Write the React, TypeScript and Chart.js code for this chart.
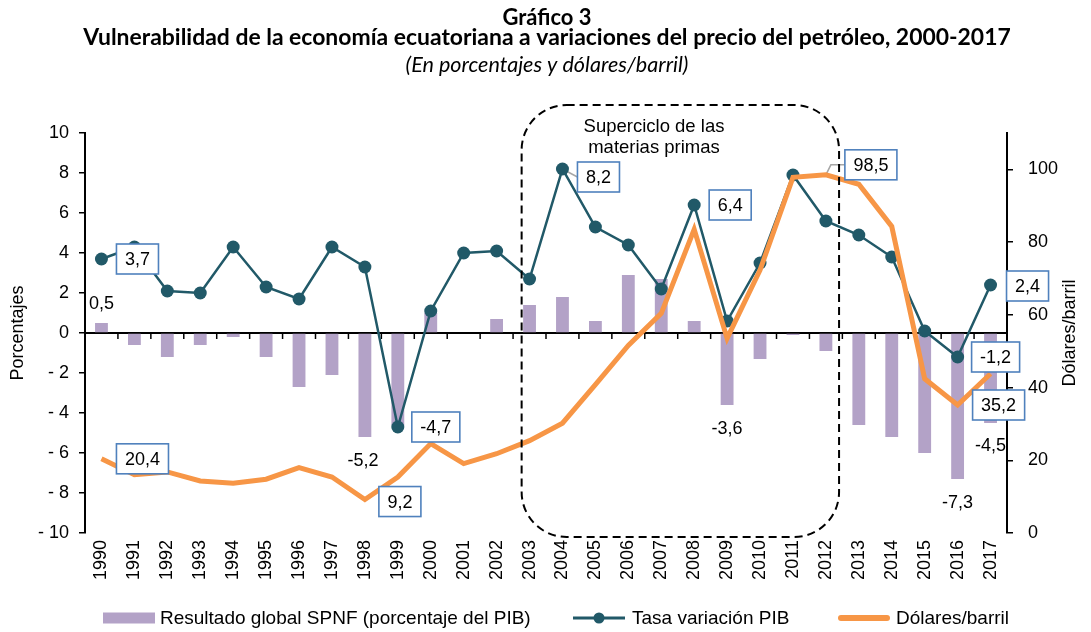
import React, { useEffect, useRef } from 'react';
import { Chart, registerables } from 'chart.js';

Chart.register(...registerables);

// ---------- data ----------
const years = [
  '1990', '1991', '1992', '1993', '1994', '1995', '1996', '1997', '1998', '1999',
  '2000', '2001', '2002', '2003', '2004', '2005', '2006', '2007', '2008', '2009',
  '2010', '2011', '2012', '2013', '2014', '2015', '2016', '2017',
];

// Resultado global SPNF (% del PIB) - bars, left axis
const spnf = [
  0.5, -0.6, -1.2, -0.6, -0.2, -1.2, -2.7, -2.1, -5.2, -4.6,
  1.0, 0.0, 0.7, 1.4, 1.8, 0.6, 2.9, 2.7, 0.6, -3.6,
  -1.3, -0.1, -0.9, -4.6, -5.2, -6.0, -7.3, -4.5,
];

// Tasa variación PIB (%) - line with markers, left axis
const gdp = [
  3.7, 4.3, 2.1, 2.0, 4.3, 2.3, 1.7, 4.3, 3.3, -4.7,
  1.1, 4.0, 4.1, 2.7, 8.2, 5.3, 4.4, 2.2, 6.4, 0.6,
  3.5, 7.9, 5.6, 4.9, 3.8, 0.1, -1.2, 2.4,
];

// Dólares/barril - thick line, right axis
const oil = [
  20.4, 16.0, 16.8, 14.3, 13.7, 14.8, 18.0, 15.4, 9.2, 15.4,
  24.6, 19.1, 21.8, 25.4, 30.2, 40.8, 51.6, 60.4, 83.5, 53.5,
  72.3, 97.8, 98.5, 95.9, 84.3, 42.4, 35.2, 43.8,
];

const leftTicks = { min: -10, max: 10, step: 2 };
const rightTicks = { min: 0, max: 110, step: 20 };

const titleLines = [
  'Gráfico 3',
  'Vulnerabilidad de la economía ecuatoriana a variaciones del precio del petróleo, 2000-2017',
];
const subtitle = '(En porcentajes y dólares/barril)';
const leftTitle = 'Porcentajes';
const rightTitle = 'Dólares/barril';
const cycleLines = ['Superciclo de las', 'materias primas'];

const seriesNames = {
  spnf: 'Resultado global SPNF (porcentaje del PIB)',
  gdp: 'Tasa variación PIB',
  oil: 'Dólares/barril',
};

// ---------- styling / annotation layout (not data) ----------
const FONT = '"Liberation Sans", Arial, sans-serif';
const TITLE_FONT = 'Lato, "Open Sans", sans-serif';
const C_BAR = '#B3A2C7';
const C_GDP = '#215968';
const C_OIL = '#F79646';
const C_BOX = '#4F81BD';

// value labels: which series / index, offset from the mark, boxed or plain
const labelNotes = [
  { s: 'spnf', i: 0, dx: 0, dy: -20, boxed: false },
  { s: 'gdp', i: 0, dx: 36, dy: 0, boxed: true },
  { s: 'oil', i: 0, dx: 41, dy: 0, boxed: true },
  { s: 'spnf', i: 8, dx: -2, dy: 23, boxed: false },
  { s: 'oil', i: 8, dx: 35, dy: 2, boxed: true },
  { s: 'gdp', i: 9, dx: 38, dy: 0, boxed: true },
  { s: 'gdp', i: 14, dx: 36, dy: 8, boxed: true, leader: 'straight' },
  { s: 'gdp', i: 18, dx: 36, dy: 0, boxed: true },
  { s: 'spnf', i: 19, dx: 0, dy: 23, boxed: false },
  { s: 'oil', i: 22, dx: 45, dy: -10, boxed: true, leader: 'elbow' },
  { s: 'gdp', i: 27, dx: 37, dy: 1, boxed: true },
  { s: 'gdp', i: 26, dx: 38, dy: 0, boxed: true },
  { s: 'oil', i: 26, dx: 41, dy: 0, boxed: true },
  { s: 'spnf', i: 27, dx: 0, dy: 22, boxed: false },
  { s: 'spnf', i: 26, dx: 0, dy: 23, boxed: false },
];

// dashed "superciclo" frame, in axis units (category index, left-axis value)
const cycleFrame = { from: 12.76, to: 22.4, top: 11.4, bottom: -10.2, radius: 45 };
const cycleText = { index: 16.78, value: 10.3, lineHeight: 21 };

const fmt = (v: number) => v.toFixed(1).replace('.', ',');
const seriesData: Record<string, number[]> = { spnf, gdp, oil };

function labelBoxes(chart: any) {
  const { ctx } = chart;
  const x = chart.scales.x;
  ctx.save();
  ctx.font = `18px ${FONT}`;
  const out = labelNotes.map((n) => {
    const v = seriesData[n.s][n.i];
    const scale = n.s === 'oil' ? chart.scales.y2 : chart.scales.y;
    const px = x.getPixelForValue(n.i);
    const py = scale.getPixelForValue(v);
    const text = fmt(v);
    const tw = ctx.measureText(text).width;
    const w = tw + 17;
    const h = 30;
    return { ...n, px, py, cx: px + n.dx, cy: py + n.dy, w, h, text };
  });
  ctx.restore();
  return out;
}

const overlay = {
  id: 'overlay',
  beforeDatasetsDraw(chart: any) {
    const { ctx, chartArea } = chart;
    const x = chart.scales.x;
    const y = chart.scales.y;
    ctx.save();
    // zero axis with category tick marks
    const y0 = y.getPixelForValue(0);
    ctx.strokeStyle = '#000';
    ctx.lineWidth = 2;
    ctx.beginPath();
    ctx.moveTo(chartArea.left, y0);
    ctx.lineTo(chartArea.right, y0);
    ctx.stroke();
    ctx.lineWidth = 1.5;
    for (let i = 1; i < years.length; i++) {
      const px = (x.getPixelForValue(i - 1) + x.getPixelForValue(i)) / 2;
      ctx.beginPath();
      ctx.moveTo(px, y0);
      ctx.lineTo(px, y0 + 6);
      ctx.stroke();
    }
    // leader lines
    ctx.strokeStyle = '#A6A6A6';
    ctx.lineWidth = 1.5;
    labelBoxes(chart).forEach((b: any) => {
      if (!b.leader) return;
      const left = b.cx - b.w / 2;
      ctx.beginPath();
      ctx.moveTo(b.px, b.py);
      if (b.leader === 'elbow') ctx.lineTo(left - 14, b.cy);
      ctx.lineTo(left, b.cy);
      ctx.stroke();
    });
    ctx.restore();
  },
  afterDatasetsDraw(chart: any) {
    const { ctx } = chart;
    const x = chart.scales.x;
    const y = chart.scales.y;
    ctx.save();
    // dashed frame
    const l = x.getPixelForValue(cycleFrame.from);
    const r = x.getPixelForValue(cycleFrame.to);
    const t = y.getPixelForValue(cycleFrame.top);
    const b = y.getPixelForValue(cycleFrame.bottom);
    const rad = cycleFrame.radius;
    ctx.strokeStyle = '#000';
    ctx.lineWidth = 2;
    ctx.setLineDash([8, 5]);
    ctx.beginPath();
    ctx.moveTo(l + rad, t);
    ctx.lineTo(r - rad, t);
    ctx.arcTo(r, t, r, t + rad, rad);
    ctx.lineTo(r, b - rad);
    ctx.arcTo(r, b, r - rad, b, rad);
    ctx.lineTo(l + rad, b);
    ctx.arcTo(l, b, l, b - rad, rad);
    ctx.lineTo(l, t + rad);
    ctx.arcTo(l, t, l + rad, t, rad);
    ctx.closePath();
    ctx.stroke();
    ctx.setLineDash([]);
    // frame text
    ctx.fillStyle = '#000';
    ctx.font = `18.5px ${FONT}`;
    ctx.textAlign = 'center';
    ctx.textBaseline = 'middle';
    const tx = x.getPixelForValue(cycleText.index);
    const ty = y.getPixelForValue(cycleText.value);
    cycleLines.forEach((line, k) => ctx.fillText(line, tx, ty + k * cycleText.lineHeight));

    // value labels
    ctx.font = `18px ${FONT}`;
    labelBoxes(chart).forEach((bx: any) => {
      if (bx.boxed) {
        ctx.fillStyle = '#fff';
        ctx.fillRect(bx.cx - bx.w / 2, bx.cy - bx.h / 2, bx.w, bx.h);
        ctx.strokeStyle = C_BOX;
        ctx.lineWidth = 1.6;
        ctx.strokeRect(bx.cx - bx.w / 2, bx.cy - bx.h / 2, bx.w, bx.h);
      }
      ctx.fillStyle = '#000';
      ctx.textAlign = 'center';
      ctx.textBaseline = 'middle';
      ctx.fillText(bx.text, bx.cx, bx.cy + 1);
    });
    ctx.restore();
  },
  afterDraw(chart: any) {
    const { ctx, width } = chart;
    const y = chart.scales.y;
    ctx.save();
    ctx.fillStyle = '#000';
    ctx.textAlign = 'center';
    ctx.textBaseline = 'alphabetic';
    const cx = 547;
    // titles, sized to the reference widths
    const fit = (text: string, spec: string, target: number) => {
      ctx.font = `${spec} 20px ${TITLE_FONT}`;
      const w = ctx.measureText(text).width;
      return (20 * target) / w;
    };
    let s = fit(titleLines[0], 'bold', 89);
    ctx.font = `bold ${s}px ${TITLE_FONT}`;
    ctx.fillText(titleLines[0], cx, 25);
    s = fit(titleLines[1], 'bold', 928);
    ctx.font = `bold ${s}px ${TITLE_FONT}`;
    ctx.fillText(titleLines[1], cx, 45);
    s = fit(subtitle, 'italic', 283);
    ctx.font = `italic ${s}px ${TITLE_FONT}`;
    ctx.fillText(subtitle, cx, 71.5);

    // axis titles (both read bottom-to-top)
    const ym = y.getPixelForValue(0);
    ctx.font = `18px ${FONT}`;
    ctx.textBaseline = 'middle';
    [[18, leftTitle], [1070, rightTitle]].forEach(([px, txt]: any) => {
      ctx.save();
      ctx.translate(px, ym);
      ctx.rotate(-Math.PI / 2);
      ctx.fillText(txt, 0, 0);
      ctx.restore();
    });

    // legend
    const ly = 618;
    ctx.font = `19px ${FONT}`;
    ctx.textAlign = 'left';
    ctx.textBaseline = 'middle';
    ctx.fillStyle = C_BAR;
    ctx.fillRect(103, ly - 5.5, 52, 11);
    ctx.fillStyle = '#000';
    ctx.fillText(seriesNames.spnf, 160, ly + 1);

    ctx.strokeStyle = C_GDP;
    ctx.lineWidth = 3;
    ctx.beginPath();
    ctx.moveTo(573, ly);
    ctx.lineTo(625, ly);
    ctx.stroke();
    ctx.fillStyle = C_GDP;
    ctx.beginPath();
    ctx.arc(599, ly, 5.5, 0, Math.PI * 2);
    ctx.fill();
    ctx.fillStyle = '#000';
    ctx.fillText(seriesNames.gdp, 632, ly + 1);

    ctx.strokeStyle = C_OIL;
    ctx.lineWidth = 6;
    ctx.lineCap = 'round';
    ctx.beginPath();
    ctx.moveTo(841, ly);
    ctx.lineTo(887, ly);
    ctx.stroke();
    ctx.fillStyle = '#000';
    ctx.fillText(seriesNames.oil, 896, ly + 1);
    ctx.restore();
  },
};

export default function App() {
  const ref = useRef<HTMLCanvasElement | null>(null);

  useEffect(() => {
    if (!ref.current) return;
    const tickFont = { family: FONT, size: 18 };
    const chart = new Chart(ref.current, {
      type: 'bar',
      data: {
        labels: years,
        datasets: [
          {
            type: 'line',
            label: seriesNames.oil,
            data: oil,
            yAxisID: 'y2',
            borderColor: C_OIL,
            backgroundColor: C_OIL,
            borderWidth: 5,
            pointRadius: 0,
            pointHoverRadius: 0,
            tension: 0,
            order: 0,
          } as any,
          {
            type: 'line',
            label: seriesNames.gdp,
            data: gdp,
            yAxisID: 'y',
            borderColor: C_GDP,
            backgroundColor: C_GDP,
            borderWidth: 2.5,
            pointRadius: 6.5,
            pointBackgroundColor: C_GDP,
            pointBorderWidth: 0,
            tension: 0,
            order: 1,
          } as any,
          {
            type: 'bar',
            label: seriesNames.spnf,
            data: spnf,
            yAxisID: 'y',
            backgroundColor: C_BAR,
            barPercentage: 0.39,
            categoryPercentage: 1,
            order: 2,
          } as any,
        ],
      },
      options: {
        responsive: false,
        animation: false,
        events: [],
        layout: { padding: { top: 133, left: 0, right: 0, bottom: 0 } },
        plugins: {
          legend: { display: false },
          title: { display: false },
          tooltip: { enabled: false },
        },
        scales: {
          x: {
            type: 'category',
            position: 'bottom',
            offset: true,
            grid: { display: false, drawTicks: false },
            border: { display: false },
            ticks: {
              font: tickFont,
              color: '#000',
              minRotation: 90,
              maxRotation: 90,
              autoSkip: false,
              padding: 7,
            },
            afterFit: (s: any) => {
              s.height = 99;
            },
          },
          y: {
            position: 'left',
            min: leftTicks.min,
            max: leftTicks.max,
            ticks: {
              stepSize: leftTicks.step,
              font: tickFont,
              color: '#000',
              padding: 10,
              callback: (v: any) => (v < 0 ? '- ' + Math.abs(v) : String(v)),
            },
            grid: { drawOnChartArea: false, tickLength: 6, color: '#000', lineWidth: 1.5 },
            border: { color: '#000', width: 2 },
            afterFit: (s: any) => {
              s.width = 85;
            },
          },
          y2: {
            position: 'right',
            min: rightTicks.min,
            max: rightTicks.max,
            ticks: {
              stepSize: rightTicks.step,
              includeBounds: false,
              font: tickFont,
              color: '#000',
              padding: 15,
            },
            grid: { drawOnChartArea: false, tickLength: 6, color: '#000', lineWidth: 1.5 },
            border: { color: '#000', width: 2 },
            afterFit: (s: any) => {
              s.width = 84;
            },
          },
        },
      } as any,
      plugins: [overlay],
    });
    return () => chart.destroy();
  }, []);

  return (
    <div style={{ position: 'absolute', left: 0, top: 0, width: 1091, height: 632, background: '#fff' }}>
      <canvas ref={ref} width={1091} height={632} style={{ display: 'block' }} />
    </div>
  );
}
